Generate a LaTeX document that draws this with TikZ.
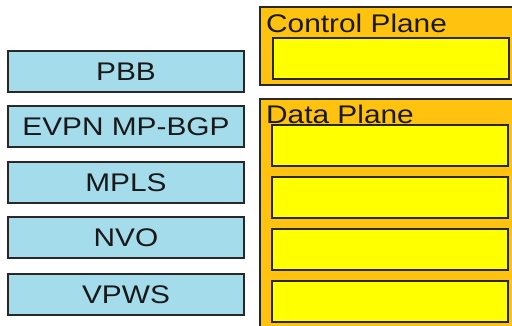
\documentclass[tikz,border=0pt]{standalone}
\usepackage{fontspec}
\setmainfont{Liberation Sans}
\usepackage{graphicx}
\usetikzlibrary{positioning}

\definecolor{layerblue}{RGB}{164,220,236}
\definecolor{planeorange}{RGB}{255,194,14}
\definecolor{slotyellow}{RGB}{255,255,0}
\definecolor{edgegray}{RGB}{40,40,40}

% wide letters as in the original slide
\newcommand{\widetext}[1]{\scalebox{1.17}[1]{#1}}

\begin{document}
\begin{tikzpicture}[
    x=1pt, y=-1pt,
    layer/.style={
        rectangle,
        draw=edgegray,
        line width=2pt,
        fill=layerblue,
        minimum width=236pt,
        minimum height=41pt,
        inner sep=0pt,
        text=black!90,
        font=\fontsize{25.5}{26}\selectfont
    },
    plane/.style={
        rectangle,
        draw=edgegray,
        line width=1.6pt,
        fill=planeorange,
        inner sep=0pt,
        minimum width=254pt
    },
    slot/.style={
        rectangle,
        draw=edgegray,
        line width=2pt,
        fill=slotyellow,
        minimum width=236pt,
        minimum height=41pt,
        inner sep=0pt
    },
    title/.style={anchor=base west, inner sep=0pt, text=black!90, font=\fontsize{25.5}{26}\selectfont}
]
\useasboundingbox (0,0) rectangle (512,325);
\clip (0,0) rectangle (512,325);

% protocol layers on the left
\node[layer] (pbb)  at (126,71.5)  {\widetext{PBB}};
\node[layer] (evpn) at (126,126.5) {\widetext{EVPN MP-BGP}};
\node[layer] (mpls) at (126,182.5) {\widetext{MPLS}};
\node[layer] (nvo)  at (126,237.5) {\widetext{NVO}};
\node[layer] (vpws) at (126,294.5) {\widetext{VPWS}};

% control plane with one empty slot
\node[plane, minimum height=78pt] (ctrl) at (387,46) {};
\node[title] (ctrltitle) at (266,32) {\widetext{Control Plane}};
\node[slot] (cslot) at (391,58) {};

% data plane with four empty slots
\node[plane, minimum height=231pt] (data) at (387,214.5) {};
\node[title] (datatitle) at (266,123) {\widetext{Data Plane}};
\node[slot] (dslota) at (390,145.5) {};
\node[slot] (dslotb) at (390,197.5) {};
\node[slot] (dslotc) at (390,249.5) {};
\node[slot] (dslotd) at (390,301.5) {};

\end{tikzpicture}
\end{document}
